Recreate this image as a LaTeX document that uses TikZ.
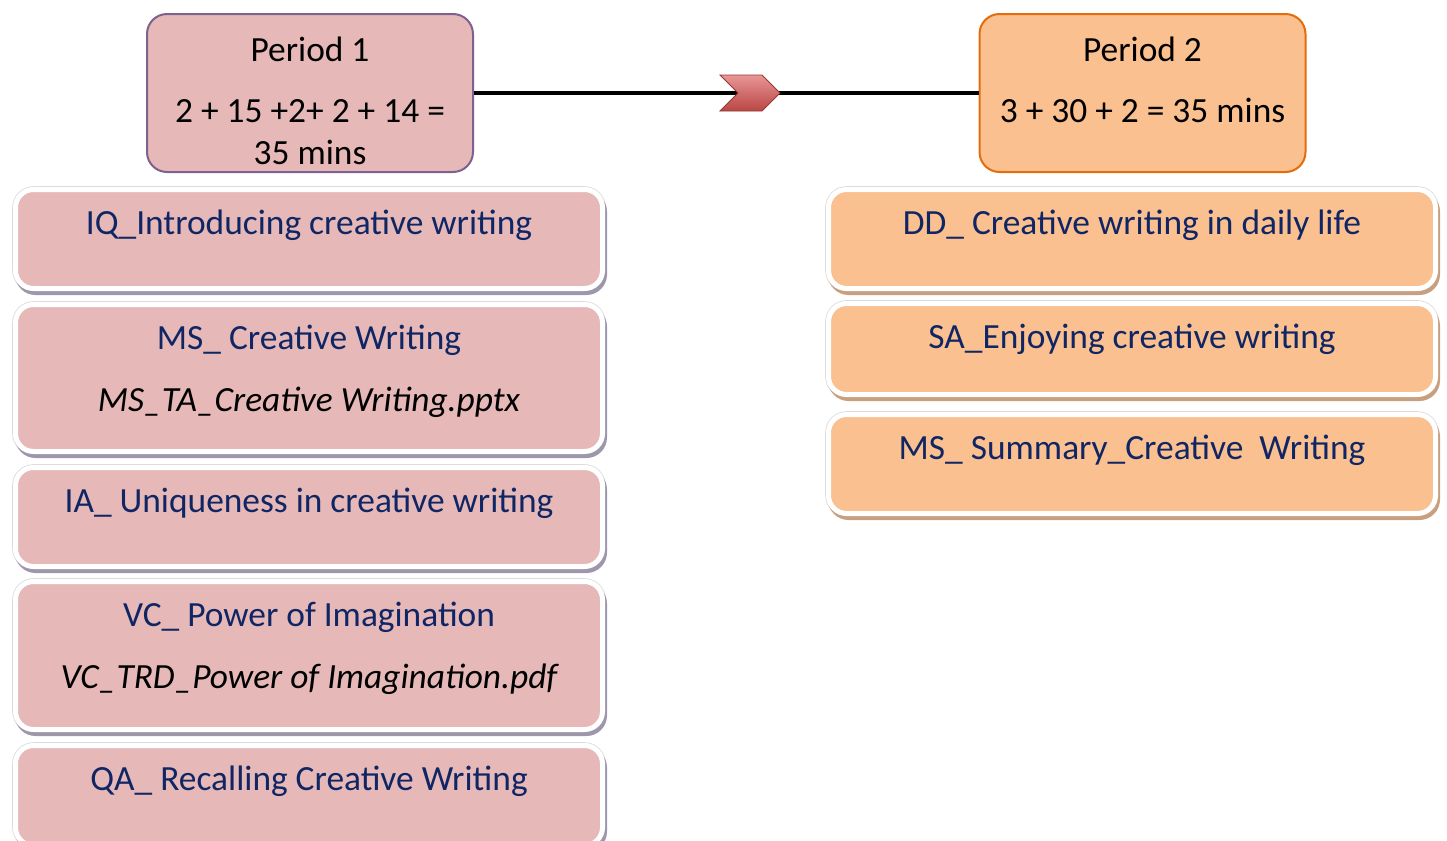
\documentclass[tikz,border=0pt]{standalone}
\usepackage{fontspec}
\setmainfont{Carlito}
\usetikzlibrary{positioning, shapes.symbols, shadows}

\definecolor{pinkfill}{RGB}{230,185,184}
\definecolor{pinkline}{RGB}{125,98,145}
\definecolor{pinkshadow}{RGB}{158,150,170}
\definecolor{orangefill}{RGB}{250,192,144}
\definecolor{orangeline}{RGB}{228,108,10}
\definecolor{orangeshadow}{RGB}{200,160,128}
\definecolor{navy}{RGB}{16,38,100}
\definecolor{chevtop}{RGB}{232,150,150}
\definecolor{chevbot}{RGB}{185,70,68}

\tikzset{
  period/.style={rectangle, rounded corners=10pt, line width=1pt,
    minimum width=163pt, minimum height=79pt, inner sep=0pt},
  task/.style={rectangle, rounded corners=9pt, draw=white, line width=2.5pt,
    preaction={draw=black!14, line width=3.3pt}, inner sep=0pt},
  pinktask/.style={task, fill=pinkfill, minimum width=293.5pt,
    drop shadow={shadow xshift=1pt, shadow yshift=-2pt, fill=pinkshadow,
      draw=pinkshadow, line width=2.5pt, opacity=1}},
  orangetask/.style={task, fill=orangefill, minimum width=303.5pt,
    drop shadow={shadow xshift=1pt, shadow yshift=-2pt, fill=orangeshadow,
      draw=orangeshadow, line width=2.5pt, opacity=1}},
  txt/.style={anchor=base, inner sep=0pt, text=navy,
    font=\fontsize{17.7}{21}\selectfont},
  head/.style={txt, text=black},
  file/.style={txt, text=black, font=\fontsize{17.7}{21}\selectfont\itshape},
  link/.style={line width=2pt},
  chevron/.style={signal, signal to=east, signal from=west, inner sep=0pt,
    minimum width=30pt, minimum height=18pt, top color=chevtop,
    bottom color=chevbot, draw=chevbot!80!black, line width=0.4pt},
}

\begin{document}
\begin{tikzpicture}[x=0.5pt, y=-0.5pt]
  \useasboundingbox (0,0) rectangle (1447,841);

  % the two periods
  \node[period, fill=pinkfill, draw=pinkline] (p1) at (310,93) {};
  \node[period, fill=orangefill, draw=orangeline] (p2) at (1142.5,93) {};
  \node[head] (p1-a) at ([yshift=-24pt]p1.north) {Period 1};
  \node[head] (p1-b) at ([yshift=-54.5pt]p1.north) {2 + 15 +2+ 2 + 14 =};
  \node[head] (p1-c) at ([yshift=-75.5pt]p1.north) {35 mins};
  \node[head] (p2-a) at ([yshift=-24pt]p2.north) {Period 2};
  \node[head] (p2-b) at ([yshift=-54.5pt]p2.north) {3 + 30 + 2 = 35 mins};
  \draw[link] (p1) -- node[chevron, pos=0.547] (arr) {} (p2);

  % period 1 tasks
  \node[pinktask, minimum height=49.5pt] (iq) at (309,239) {};
  \node[txt] (iq-a) at ([yshift=-23.5pt]iq.north) {IQ\_Introducing creative writing};
  \node[pinktask, minimum height=73.5pt] (ms) at (309,378) {};
  \node[txt] (ms-a) at ([yshift=-23.5pt]ms.north) {MS\_ Creative Writing};
  \node[file] (ms-b) at ([yshift=-54.5pt]ms.north) {MS\_TA\_Creative Writing.pptx};
  \node[pinktask, minimum height=49.5pt] (ia) at (309,517) {};
  \node[txt] (ia-a) at ([yshift=-23.5pt]ia.north) {IA\_ Uniqueness in creative writing};
  \node[pinktask, minimum height=74pt] (vc) at (309,655.5) {};
  \node[txt] (vc-a) at ([yshift=-23.5pt]vc.north) {VC\_ Power of Imagination};
  \node[file] (vc-b) at ([yshift=-54.5pt]vc.north) {VC\_TRD\_Power of Imagination.pdf};
  \node[pinktask, minimum height=50pt] (qa) at (309,795.5) {};
  \node[txt] (qa-a) at ([yshift=-23.5pt]qa.north) {QA\_ Recalling Creative Writing};

  % period 2 tasks
  \node[orangetask, minimum height=49.5pt] (dd) at (1132,239) {};
  \node[txt] (dd-a) at ([yshift=-23.5pt]dd.north) {DD\_ Creative writing in daily life};
  \node[orangetask, minimum height=45.5pt] (sa) at (1132,349) {};
  \node[txt] (sa-a) at ([yshift=-23.5pt]sa.north) {SA\_Enjoying creative writing};
  \node[orangetask, minimum height=49.5pt] (mss) at (1132,464) {};
  \node[txt] (mss-a) at ([yshift=-23.5pt]mss.north) {MS\_ Summary\_Creative~ Writing};
\end{tikzpicture}
\end{document}
